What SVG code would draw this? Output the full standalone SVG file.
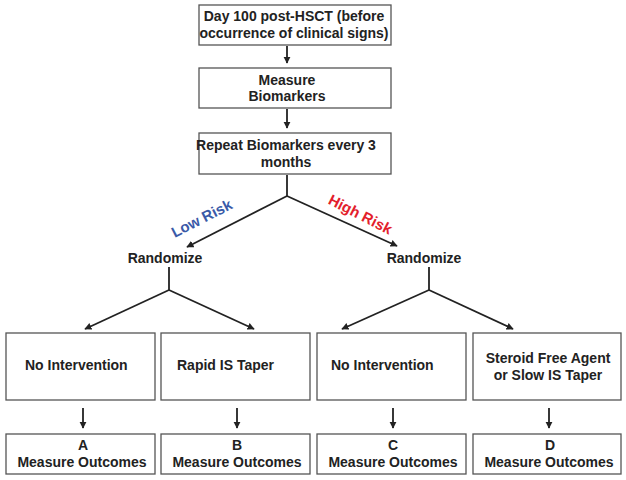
<svg xmlns="http://www.w3.org/2000/svg" width="626" height="480" viewBox="0 0 626 480">
<style>
.box{fill:#fff;stroke:#555;stroke-width:1.3}
.t{font-family:"Liberation Sans",Arial,sans-serif;font-weight:bold;font-size:14px;fill:#222}
.c{text-anchor:middle}
.risk{font-size:15px}
.ln{stroke:#222;stroke-width:1.8;fill:none}
</style>
<defs>
<marker id="ah" viewBox="0 0 10 10" refX="9" refY="5" markerWidth="4" markerHeight="4" orient="auto" markerUnits="strokeWidth">
<path d="M0,0 L10,5 L0,10 Z" fill="#222"/>
</marker>
</defs>
<rect width="626" height="480" fill="#fff"/>
<g id="n1"><rect class="box" x="199" y="5" width="192" height="40"/>
<text class="t c" x="294" y="21">Day 100 post-HSCT (before</text>
<text class="t c" x="294" y="38">occurrence of clinical signs)</text></g>
<g id="n2"><rect class="box" x="199" y="68" width="192" height="40"/>
<text class="t c" x="287" y="85">Measure</text>
<text class="t c" x="287" y="101">Biomarkers</text></g>
<g id="n3"><rect class="box" x="199" y="133" width="192" height="41"/>
<text class="t c" x="286" y="150">Repeat Biomarkers every 3</text>
<text class="t c" x="286" y="167">months</text></g>
<g id="r1"><text class="t c" x="165" y="263">Randomize</text></g>
<g id="r2"><text class="t c" x="424" y="263">Randomize</text></g>
<g id="b1"><rect class="box" x="6" y="333" width="149" height="67"/>
<text class="t" x="25" y="370">No Intervention</text></g>
<g id="b2"><rect class="box" x="161" y="333" width="149" height="67"/>
<text class="t" x="177" y="370">Rapid IS Taper</text></g>
<g id="b3"><rect class="box" x="317" y="333" width="149" height="67"/>
<text class="t" x="331" y="370">No Intervention</text></g>
<g id="b4"><rect class="box" x="473" y="333" width="148" height="67"/>
<text class="t c" x="548" y="363">Steroid Free Agent</text>
<text class="t c" x="548" y="380">or Slow IS Taper</text></g>
<g id="oA"><rect class="box" x="6" y="434" width="149" height="40"/>
<text class="t c" x="83" y="450">A</text><text class="t c" x="82" y="467">Measure Outcomes</text></g>
<g id="oB"><rect class="box" x="161" y="434" width="149" height="40"/>
<text class="t c" x="237" y="450">B</text><text class="t c" x="237" y="467">Measure Outcomes</text></g>
<g id="oC"><rect class="box" x="317" y="434" width="149" height="40"/>
<text class="t c" x="393" y="450">C</text><text class="t c" x="393" y="467">Measure Outcomes</text></g>
<g id="oD"><rect class="box" x="473" y="434" width="148" height="40"/>
<text class="t c" x="550" y="450">D</text><text class="t c" x="549" y="467">Measure Outcomes</text></g>
<g id="connectors">
<line class="ln" x1="287" y1="46" x2="287" y2="63" marker-end="url(#ah)"/>
<line class="ln" x1="287" y1="109" x2="287" y2="128" marker-end="url(#ah)"/>
<polyline class="ln" points="287,175 287,196"/>
<line class="ln" x1="287" y1="196" x2="187" y2="247" marker-end="url(#ah)"/>
<line class="ln" x1="287" y1="196" x2="397" y2="246" marker-end="url(#ah)"/>
<polyline class="ln" points="169,267 169,290"/>
<line class="ln" x1="169" y1="290" x2="85" y2="329" marker-end="url(#ah)"/>
<line class="ln" x1="169" y1="290" x2="254" y2="329" marker-end="url(#ah)"/>
<polyline class="ln" points="429,267 429,290"/>
<line class="ln" x1="429" y1="290" x2="342" y2="329" marker-end="url(#ah)"/>
<line class="ln" x1="429" y1="290" x2="513" y2="329" marker-end="url(#ah)"/>
<line class="ln" x1="83" y1="408" x2="83" y2="428" marker-end="url(#ah)"/>
<line class="ln" x1="237" y1="408" x2="237" y2="428" marker-end="url(#ah)"/>
<line class="ln" x1="393" y1="408" x2="393" y2="428" marker-end="url(#ah)"/>
<line class="ln" x1="549" y1="408" x2="549" y2="428" marker-end="url(#ah)"/>
</g>
<g id="labels">
<text class="t c risk" x="204" y="223" style="fill:#3a5aa8" transform="rotate(-27 204 223)">Low Risk</text>
<text class="t c risk" x="358" y="219" style="fill:#e31e2c" transform="rotate(27 358 219)">High Risk</text>
</g>
</svg>
